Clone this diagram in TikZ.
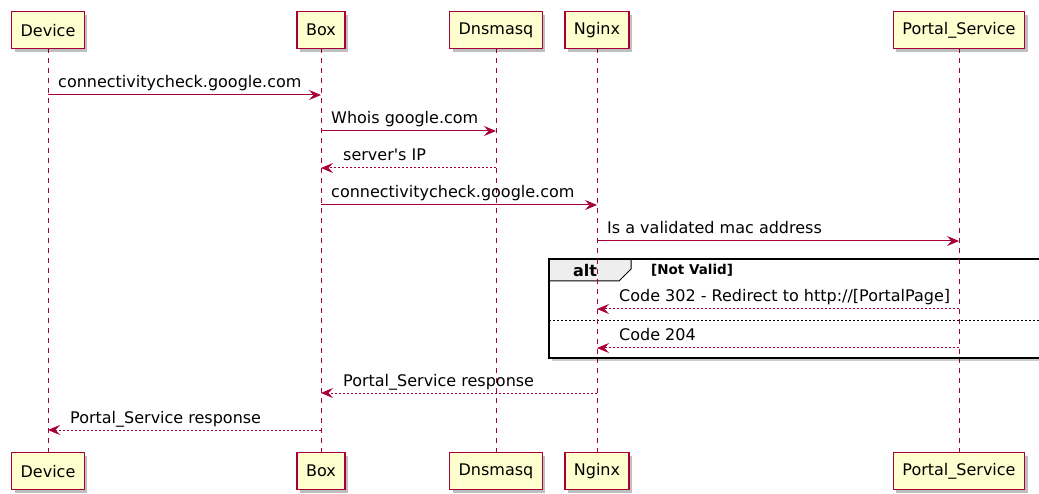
\documentclass[tikz,border=0pt]{standalone}
\usepackage{fontspec}
\setmainfont{DejaVu Sans}[Ligatures=TeXOff]
\usetikzlibrary{arrows.meta,shadows}
\definecolor{pcol}{HTML}{A80036}
\definecolor{pfill}{HTML}{FEFECE}
\definecolor{tabfill}{HTML}{EEEEEE}
\tikzset{
  part/.style={draw=pcol,fill=pfill,line width=1.4pt,minimum height=37pt,inner xsep=9pt,
    font=\fontsize{16}{18}\selectfont,
    drop shadow={shadow xshift=3pt,shadow yshift=-3pt,fill=black,opacity=0.25}},
  life/.style={draw=pcol,line width=1pt,dash pattern=on 5pt off 5pt},
  msg/.style={draw=pcol,line width=1pt,-{Stealth[length=12pt,width=10pt,inset=4.5pt]}},
  rmsg/.style={msg,dash pattern=on 2pt off 2pt},
  lbl/.style={font=\fontsize{16}{18}\selectfont,inner sep=0pt,anchor=base west},
}
\begin{document}
\begin{tikzpicture}[x=1pt,y=-1pt]
\clip (0,0) rectangle (1039,494);
\fill[white] (0,0) rectangle (1039,494);
% lifelines coordinates
\coordinate (xD) at (48,0);
\coordinate (xB) at (321,0);
\coordinate (xN) at (496,0);
\coordinate (xG) at (597,0);
\coordinate (xP) at (959,0);
% lifelines
\foreach \c in {xD,xB,xN,xG,xP}{
  \draw[life] (\c |- 0,48) -- (\c |- 0,452);
}
% participants
\node[part,anchor=north] (dT) at (48,11) {Device};
\node[part,anchor=north] (bT) at (321,11) {Box};
\node[part,anchor=north] (nT) at (496,11) {Dnsmasq};
\node[part,anchor=north] (gT) at (597,11) {Nginx};
\node[part,anchor=north] (pT) at (959,11) {Portal\_Service};
\node[part,anchor=north] (dB) at (48,452) {Device};
\node[part,anchor=north] (bB) at (321,452) {Box};
\node[part,anchor=north] (nB) at (496,452) {Dnsmasq};
\node[part,anchor=north] (gB) at (597,452) {Nginx};
\node[part,anchor=north] (pB) at (959,452) {Portal\_Service};
% alt frame
\fill[black,opacity=0.2] (552,262) rectangle (1045,361);
\fill[white] (549,259) rectangle (1045,358);
\draw[fill=tabfill,line width=1pt] (549,259) -- (631,259) -- (631,269) -- (619,281) -- (549,281) -- cycle;
\draw[line width=1.5pt] (549,259) rectangle (1045,358);
\node[font=\fontsize{16}{18}\selectfont\bfseries,inner sep=0pt,anchor=base] (altl) at (585,277) {alt};
\node[font=\fontsize{13.5}{15}\selectfont\bfseries,inner sep=0pt,anchor=base west] (cond) at (651,275) {[Not Valid]};
\draw[line width=0.8pt,dash pattern=on 2pt off 2pt] (549,320) -- (1045,320);
% redraw lifelines inside frame
\foreach \c in {xG,xP}{
  \draw[life] (\c |- 0,259) -- (\c |- 0,358);
}
% messages
\draw[msg] (dT |- 0,95) -- (bT |- 0,95);
\node[lbl] (l1) at (58,88) {connectivitycheck.google.com};
\draw[msg] (bT |- 0,131) -- (nT |- 0,131);
\node[lbl] (l2) at (331,124) {Whois google.com};
\draw[rmsg] (nT |- 0,168) -- (bT |- 0,168);
\node[lbl] (l3) at (343,161) {server\textquotesingle s IP};
\draw[msg] (bT |- 0,205) -- (gT |- 0,205);
\node[lbl] (l4) at (331,198) {connectivitycheck.google.com};
\draw[msg] (gT |- 0,241) -- (pT |- 0,241);
\node[lbl] (l5) at (607,234) {Is a validated mac address};
\draw[rmsg] (pT |- 0,309) -- (gT |- 0,309);
\node[lbl] (l6) at (619,302) {Code 302 - Redirect to http://[PortalPage]};
\draw[rmsg] (pT |- 0,348) -- (gT |- 0,348);
\node[lbl] (l7) at (619,341) {Code 204};
\draw[rmsg] (gT |- 0,393) -- (bT |- 0,393);
\node[lbl] (l8) at (343,386) {Portal\_Service response};
\draw[rmsg] (bT |- 0,430) -- (dT |- 0,430);
\node[lbl] (l9) at (70,423) {Portal\_Service response};
\end{tikzpicture}
\end{document}
